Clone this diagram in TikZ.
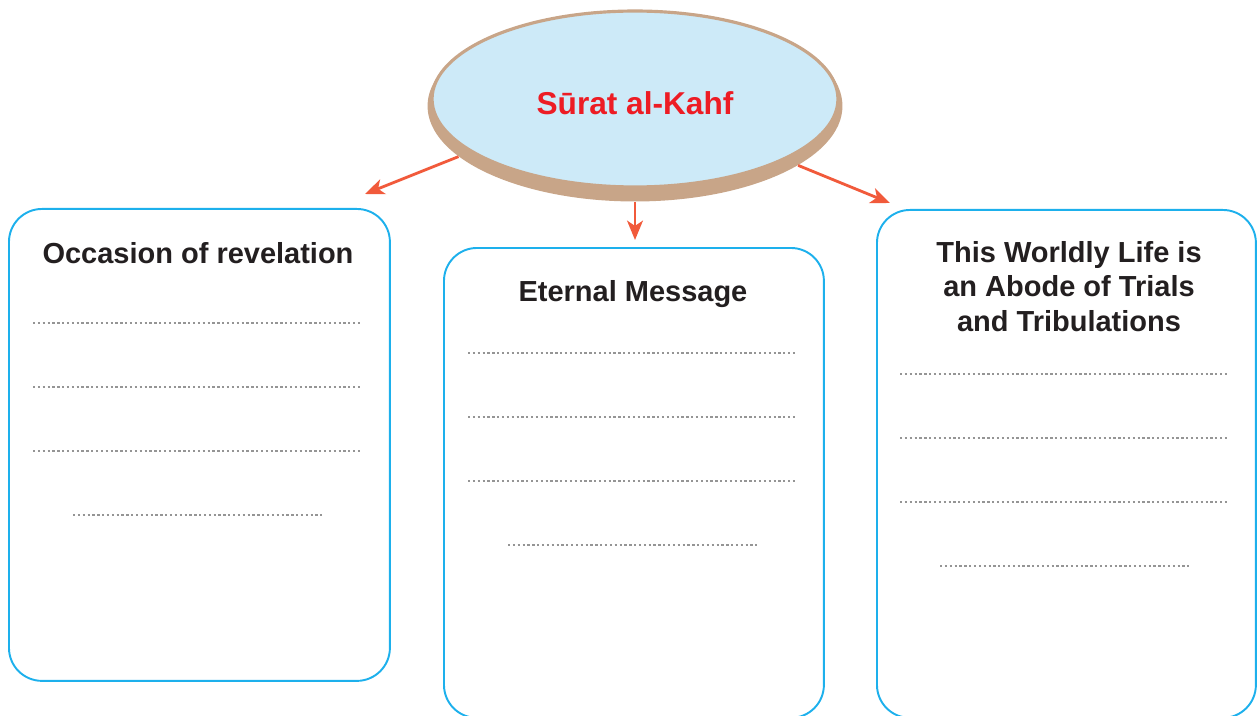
\documentclass[tikz,border=0pt]{standalone}
\usepackage{fontspec}
\setmainfont{Liberation Sans}
\usetikzlibrary{shapes.geometric,arrows.meta}

\definecolor{kahfblue}{HTML}{CDEAF8}
\definecolor{kahfbrown}{HTML}{C8A588}
\definecolor{kahfred}{HTML}{ED1C24}
\definecolor{cardcyan}{HTML}{1DB0EC}
\definecolor{linkred}{HTML}{F15A3B}
\definecolor{headgray}{HTML}{231F20}
\definecolor{dotgray}{HTML}{959595}

\tikzset{
  topic/.style={ellipse,fill=kahfblue,draw=kahfbrown,line width=1.8pt,inner sep=0pt,
    minimum width=8.12cm,minimum height=3.52cm,text=kahfred,
    text height=18pt,text depth=0pt,font=\bfseries\fontsize{18}{21}\selectfont},
  topicshadow/.style={ellipse,fill=kahfbrown,inner sep=0pt,minimum width=8.3cm,minimum height=3.82cm},
  card/.style={draw=cardcyan,line width=1.1pt,rounded corners=0.66cm,anchor=north west,inner sep=0pt},
  cardhead/.style={text=headgray,font=\bfseries\fontsize{16.5}{19.4}\selectfont,align=center,anchor=base},
  link/.style={draw=linkred,line width=1.6pt,-{Stealth[length=11pt,width=9pt,inset=3pt]}},
  writeline/.style={draw=dotgray,line width=1.3pt,dash pattern=on 1.3pt off 1.46pt},
}

\begin{document}
\begin{tikzpicture}[x=0.02cm,y=-0.02cm]
\useasboundingbox (0,0) rectangle (1260,716);
\clip (0,0) rectangle (1260,716);

% the three cards
\node[card,minimum width=7.62cm,minimum height=9.44cm] (occasion) at (8,208) {};
\node[card,minimum width=7.6cm,minimum height=9.4cm] (message) at (443,247) {};
\node[card,minimum width=7.58cm,minimum height=10.16cm] (trials) at (876,209) {};

\node[cardhead] (occasionhead) at (198,263) {Occasion of revelation};
\node[cardhead] (messagehead) at (633,301) {Eternal Message};
\node[cardhead] (trialshead) at (1069,331) {This Worldly Life is\\an Abode of Trials\\and Tribulations};

% lines to write on
\foreach \x/\y in {33/323,468/353,900/374}{
  \foreach \k in {0,1,2}
    \draw[writeline] (\x,\y+64*\k) -- (\x+328,\y+64*\k);
  \draw[writeline] (\x+40,\y+192) -- (\x+289,\y+192);
}

% the sura
\node[topicshadow] (kahfshadow) at (635,106) {};

\coordinate (occasionend) at (365,194);
\coordinate (messageend) at (635,240);
\coordinate (trialsend) at (890,203);

\draw[link] (kahfshadow.196) -- (occasionend);
\draw[link] (kahfshadow.south) -- (messageend);
\draw[link] (kahfshadow.340) -- (trialsend);

\node[topic] (kahf) at (635,99) {Sūrat al-Kahf};
\end{tikzpicture}
\end{document}
